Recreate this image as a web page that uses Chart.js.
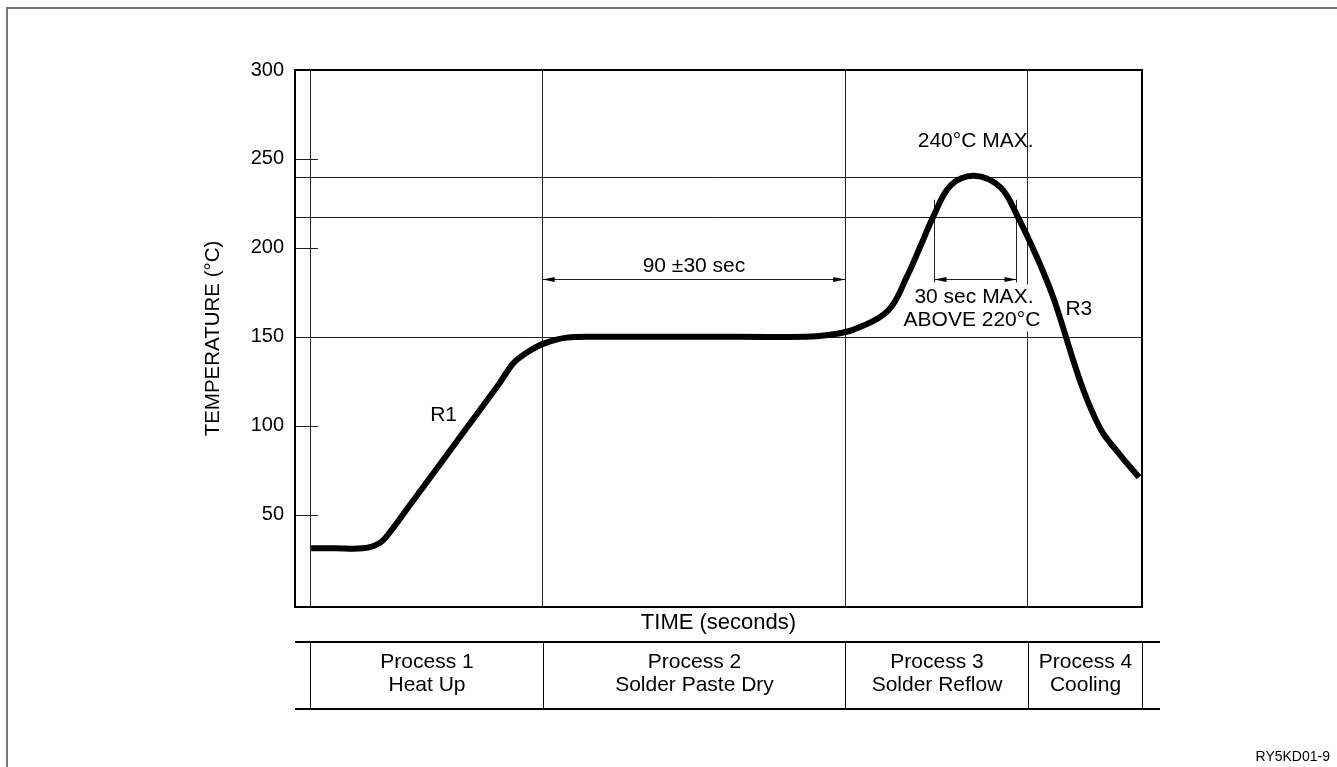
<!DOCTYPE html>
<html>
<head>
<meta charset="utf-8">
<script src="https://cdn.jsdelivr.net/npm/chart.js@4.4.1/dist/chart.umd.min.js"></script>
<style>
html, body { margin: 0; padding: 0; background: #fff; }
body { width: 1337px; height: 767px; overflow: hidden; position: relative; }
#frame { position: absolute; left: 6px; top: 7px; width: 1400px; height: 800px; border-left: 2px solid #777; border-top: 2px solid #777; }
canvas { position: absolute; left: 0; top: 0; }
</style>
</head>
<body>
<div id="frame"></div>
<canvas id="chart" width="1337" height="767"></canvas>
<script>
// reflow profile
const timeSec = [4.8, 12, 20.2, 25.2, 28.2, 33.1, 51.0, 60.9, 64.9, 68.9, 73.8, 80.8, 90.7, 120, 152, 158, 166.2, 176.6, 182.1, 186.1, 190.0, 195.0, 202.0, 209.9, 214.9, 220.9, 225.8, 233.8, 239.7, 245.7, 251.1];
const tempC = [31, 31, 31, 34, 40, 52.5, 98.5, 124, 135, 141, 146, 149.5, 150, 150, 150, 150.8, 154, 165, 184, 201, 218, 235, 240.5, 234, 218, 194, 171, 124, 98, 83, 71];

const tempTicks = [50, 100, 150, 200, 250, 300];
const phaseEdges = [4.6, 73.7, 163.7, 218.0];
const refTemps = [150, 217.5, 240];
const processNames = ["Process 1", "Process 2", "Process 3", "Process 4"];
const processSteps = ["Heat Up", "Solder Paste Dry", "Solder Reflow", "Cooling"];

const FONT = '"Liberation Sans", Arial, Helvetica, sans-serif';
Chart.defaults.font.family = FONT;
Chart.defaults.color = "#000";

function line(ctx, x1, y1, x2, y2) {
    ctx.beginPath();
    ctx.moveTo(x1, y1);
    ctx.lineTo(x2, y2);
    ctx.stroke();
}

function arrowHead(ctx, xTip, y, dir) {
    ctx.beginPath();
    ctx.moveTo(xTip, y);
    ctx.lineTo(xTip - dir * 12, y - 2.5);
    ctx.lineTo(xTip - dir * 12, y + 2.5);
    ctx.closePath();
    ctx.fill();
}

function text(ctx, str, x, y, size) {
    ctx.font = size + "px " + FONT;
    ctx.fillText(str, x, y);
}

const overlay = {
    id: "overlay",
    beforeDatasetsDraw(chart) {
        const { ctx, chartArea: a, scales: { x, y } } = chart;
        ctx.save();
        ctx.strokeStyle = "#222";
        ctx.fillStyle = "#000";
        ctx.lineWidth = 1;

        refTemps.forEach(t => {
            const py = Math.round(y.getPixelForValue(t)) + 0.5;
            line(ctx, a.left, py, a.right, py);
        });
        tempTicks.slice(0, -1).forEach(t => {
            const py = Math.round(y.getPixelForValue(t)) + 0.5;
            line(ctx, a.left, py, a.left + 23, py);
        });

        // 90 +-30 sec dimension
        const yd = Math.round(y.getPixelForValue(182.5)) + 0.5;
        const x1 = x.getPixelForValue(phaseEdges[1]);
        const x2 = x.getPixelForValue(phaseEdges[2]);
        line(ctx, x1, yd, x2, yd);
        arrowHead(ctx, x1, yd, -1);
        arrowHead(ctx, x2, yd, 1);
        ctx.textAlign = "center";
        ctx.textBaseline = "middle";
        text(ctx, "90 \u00b130 sec", (x1 + x2) / 2, yd - 13, 21);

        // 30 sec max above 220
        const cx = x.getPixelForValue(202);
        ctx.fillStyle = "#fff";
        ctx.fillRect(cx - 70, yd + 5, 140, 47);
        ctx.fillStyle = "#000";
        const xa = Math.round(x.getPixelForValue(190)) + 0.5;
        const xb = Math.round(x.getPixelForValue(214.4)) + 0.5;
        const yTop = y.getPixelForValue(227);
        line(ctx, xa, yTop, xa, yd + 3);
        line(ctx, xb, yTop, xb, yd + 3);
        line(ctx, xa, yd, xb, yd);
        arrowHead(ctx, xa, yd, -1);
        arrowHead(ctx, xb, yd, 1);
        text(ctx, "30 sec MAX.", cx, yd + 18, 21);
        text(ctx, "ABOVE 220\u00b0C", cx - 2, yd + 41, 21);
        ctx.restore();
    },
    afterDraw(chart) {
        const { ctx, chartArea: a, scales: { x, y } } = chart;
        ctx.save();
        ctx.strokeStyle = "#000";
        ctx.fillStyle = "#000";
        ctx.lineWidth = 2;
        ctx.strokeRect(a.left, a.top, a.right - a.left, a.bottom - a.top);

        ctx.textAlign = "center";
        ctx.textBaseline = "middle";
        text(ctx, "240\u00b0C MAX.", x.getPixelForValue(202.5), y.getPixelForValue(260), 21);
        text(ctx, "R1", x.getPixelForValue(44.2), y.getPixelForValue(105.8), 21);
        text(ctx, "R3", x.getPixelForValue(233.2), y.getPixelForValue(165.4), 21);

        // process table
        const tTop = a.bottom + 35, tBot = a.bottom + 102;
        line(ctx, a.left, tTop, a.right + 18, tTop);
        line(ctx, a.left, tBot, a.right + 18, tBot);
        ctx.lineWidth = 1;
        const edges = phaseEdges.map(v => Math.round(x.getPixelForValue(v)) + 0.5);
        edges.push(Math.round(a.right) + 0.5);
        edges.forEach(px => line(ctx, px, tTop, px, tBot));
        processNames.forEach((name, i) => {
            const mid = (edges[i] + edges[i + 1]) / 2;
            text(ctx, name, mid, tTop + 20, 21);
            text(ctx, processSteps[i], mid, tTop + 43, 21);
        });

        ctx.textAlign = "right";
        text(ctx, "RY5KD01-9", 1330, 757, 14);
        ctx.restore();
    }
};

new Chart(document.getElementById("chart"), {
    type: "line",
    data: {
        datasets: [{
            data: timeSec.map((t, i) => ({ x: t, y: tempC[i] })),
            borderColor: "#000",
            borderWidth: 6,
            pointRadius: 0,
            tension: 0.35,
            borderJoinStyle: "round"
        }]
    },
    options: {
        responsive: false,
        devicePixelRatio: 1,
        animation: false,
        layout: { padding: { left: 200, top: 70, right: 195, bottom: 130 } },
        plugins: { legend: { display: false }, tooltip: { enabled: false } },
        scales: {
            x: {
                type: "linear",
                min: 0,
                max: 252,
                afterBuildTicks: s => { s.ticks = phaseEdges.map(v => ({ value: v })); },
                afterFit: s => { s.height = 30; },
                grid: { color: "#222", lineWidth: 1, drawTicks: false },
                border: { display: false },
                ticks: { display: false },
                title: { display: true, text: "TIME (seconds)", font: { size: 22 }, padding: { top: 0, bottom: 1 } }
            },
            y: {
                min: -2,
                max: 300,
                afterBuildTicks: s => { s.ticks = tempTicks.map(v => ({ value: v })); },
                afterFit: s => { s.width = 95; },
                grid: { display: false, drawTicks: false },
                border: { display: false },
                ticks: { padding: 11, font: { size: 20 } },
                title: { display: true, text: "TEMPERATURE (\u00b0C)", font: { size: 20.5 }, padding: { top: 1, bottom: 0 } }
            }
        }
    },
    plugins: [overlay]
});
</script>
</body>
</html>
